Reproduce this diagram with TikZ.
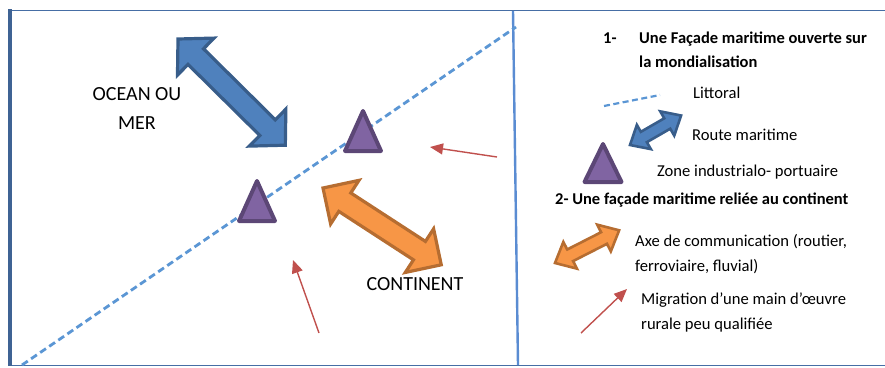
\documentclass[tikz,border=0pt]{standalone}
\usepackage{fontspec}
\setmainfont{Carlito}
\usepackage{tikz}
\usetikzlibrary{arrows.meta}
\definecolor{frameColor}{RGB}{70,110,165}
\definecolor{dividerColor}{RGB}{90,140,210}
\definecolor{coastColor}{RGB}{91,150,212}
\definecolor{seaFill}{RGB}{79,129,189}
\definecolor{seaLine}{RGB}{56,93,138}
\definecolor{landFill}{RGB}{247,150,70}
\definecolor{landLine}{RGB}{182,109,49}
\definecolor{zoneFill}{RGB}{128,100,162}
\definecolor{zoneLine}{RGB}{92,71,118}
\definecolor{migrationColor}{RGB}{192,80,77}
\tikzstyle{map} = [x = 1pt, y = -1pt]
\tikzstyle{frameLine} = [color=frameColor, line width=1.8pt]
\tikzstyle{coastLine} = [color=coastColor, line width=2.8pt, dash pattern=on 7pt off 4pt]
\tikzstyle{seaRoute} = [fill=seaFill, draw=seaLine, line width=3.2pt, line join=miter]
\tikzstyle{landRoute} = [fill=landFill, draw=landLine, line width=3.2pt, line join=miter]
\tikzstyle{zoneStyle} = [fill=zoneFill, draw=zoneLine, line width=4pt, line join=round]
\tikzstyle{migration} = [color=migrationColor, line width=1.4pt, -{Triangle[length=13pt, width=11pt]}]
\tikzstyle{bigLabel} = [font=\fontsize{20}{29}\selectfont, inner sep=0pt, align=center]
\tikzstyle{legendText} = [font=\fontsize{16.6}{25}\selectfont, inner sep=0pt, anchor=west, align=left]
\tikzstyle{legendTitle} = [font=\fontsize{16.5}{24}\selectfont\bfseries, inner sep=0pt, anchor=west, align=left]
\newcommand{\doubleArrow}[8]{
  \begin{scope}[shift={(#2,#3)}, rotate=#4]
    \filldraw [#1] (0,0) -- (#8,#7) -- (#8,#6) -- (#5-#8,#6) -- (#5-#8,#7) -- (#5,0)
      -- (#5-#8,-#7) -- (#5-#8,-#6) -- (#8,-#6) -- (#8,-#7) -- cycle;
  \end{scope}
}
\newcommand{\zoneTriangle}[4]{\filldraw [zoneStyle] (#1,#2) -- + (#3,#4) -- + (-#3,#4) -- cycle;}

\begin{document}
\begin{tikzpicture}[map]
      \useasboundingbox (0,0) rectangle (885,367);
      \draw [frameLine] (8,10.5) -- (885,10.5);
      \draw [frameLine] (8,365.5) -- (885,365.5);
      \draw [color=frameColor!90!black, line width=4pt] (10,9) -- (10,366);
      \draw [color=dividerColor, line width=2.4pt] (513,11) -- (518,365);
      \draw [coastLine] (22,365) -- (516,27);

      \doubleArrow{seaRoute}{178}{39}{-44.7}{151}{11}{26}{25}
      \doubleArrow{landRoute}{323}{188}{-33}{141}{11}{26}{26}
      \zoneTriangle{363}{111}{18}{40}
      \zoneTriangle{257}{181}{18}{40}

      \coordinate (eastStart) at (497,157);
      \coordinate (eastEnd) at (430,147);
      \coordinate (southStart) at (319,333);
      \coordinate (southEnd) at (293,260);
      \draw [migration] (eastStart) -- (eastEnd);
      \draw [migration] (southStart) -- (southEnd);

      \node [bigLabel] (ocean) at (137,108.5) {OCEAN OU\\MER};
      \node [bigLabel] (continent) at (415,284) {CONTINENT};

      \node [legendTitle] (titleOneNum) at (603,38) {1-};
      \node [legendTitle] (titleOne) at (639,50) {Une Façade maritime ouverte sur\\la mondialisation};
      \draw [coastLine, line width=2.2pt, dash pattern=on 6pt off 3.5pt] (604,106) -- (660,95);
      \node [legendText] (littoral) at (693,93) {Littoral};
      \doubleArrow{seaRoute, line width=2.6pt}{630}{145}{30}{59}{6}{14}{16}
      \node [legendText] (route) at (692,135) {Route maritime};
      \zoneTriangle{603}{144}{18.5}{38}
      \node [legendText] (zone) at (657,172) {Zone industrialo- portuaire};
      \node [legendTitle] (titleTwo) at (555,200) {2- Une façade maritime reliée au continent};
      \doubleArrow{landRoute, line width=2.6pt}{555}{263}{27}{72}{6.5}{15}{17}
      \node [legendText] (axis) at (635,254.5) {Axe de communication (routier,\\ferroviaire, fluvial)};
      \coordinate (legendStart) at (581,333);
      \coordinate (legendEnd) at (627,289);
      \draw [migration] (legendStart) -- (legendEnd);
      \node [legendText] (rural) at (641,312.5) {Migration d’une main d’œuvre\\rurale peu qualifiée};
\end{tikzpicture}
\end{document}
